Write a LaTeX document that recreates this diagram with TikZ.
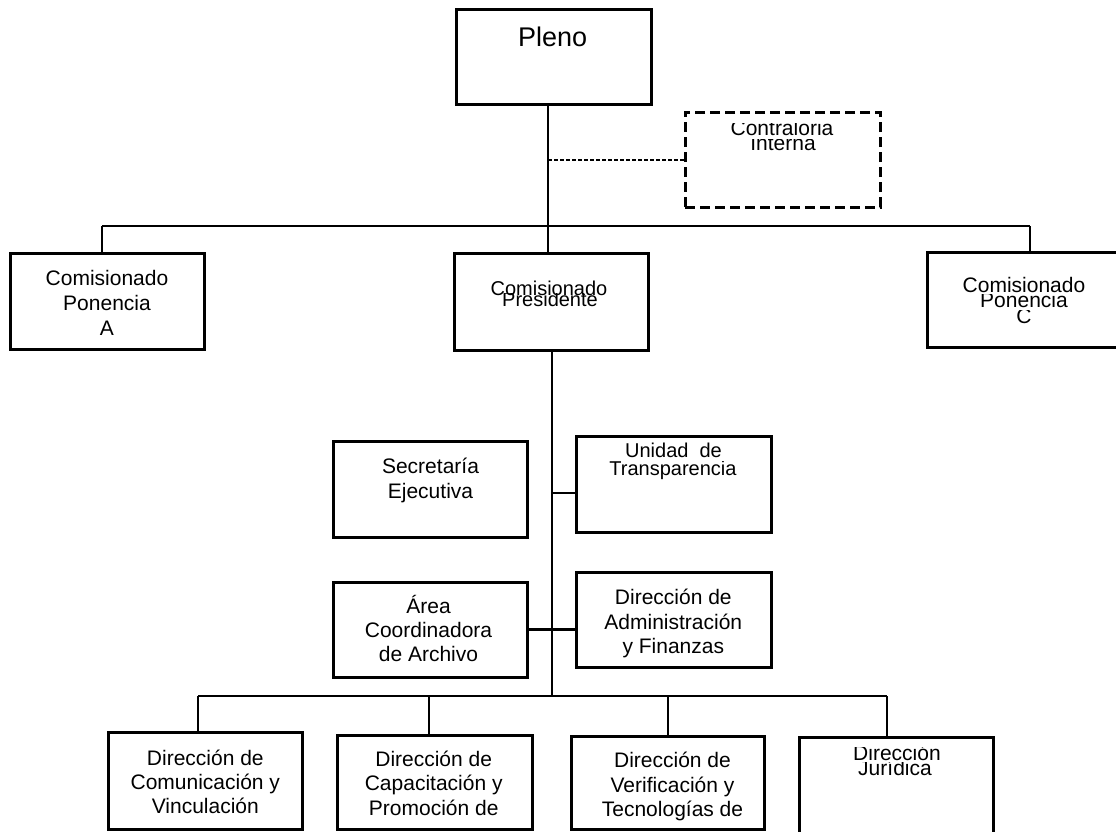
\documentclass[tikz,border=0pt]{standalone}
\usepackage{fontspec}
\setmainfont{Liberation Sans}
\begin{document}
\begin{tikzpicture}[x=1pt,y=-1pt,
  box/.style={draw, line width=3pt, rectangle, inner sep=0pt},
  dbox/.style={draw, line width=3pt, rectangle, inner sep=0pt, dash pattern=on 10pt off 5pt},
  conn/.style={line width=2.2pt},
  dconn/.style={line width=2pt, dash pattern=on 4pt off 2pt},
  txt/.style={anchor=base, inner sep=0pt, font=\fontsize{21}{21}\selectfont},
  txts/.style={txt, font=\fontsize{20}{20}\selectfont},
  txtl/.style={txt, font=\fontsize{27}{27}\selectfont}]
\useasboundingbox (0,0) rectangle (1116,831);
\clip (0,0) rectangle (1116,831);

% boxes
\node[box, minimum width=195pt, minimum height=95pt] (pleno) at (553.5,56.5) {};
\node[dbox, minimum width=195pt, minimum height=95pt] (contra) at (782.5,159.5) {};
\node[box, minimum width=194pt, minimum height=96pt] (comA) at (107,301) {};
\node[box, minimum width=194pt, minimum height=97pt] (pres) at (551,301.5) {};
\node[box, minimum width=194pt, minimum height=95pt] (comC) at (1024,299.5) {};
\node[box, minimum width=194pt, minimum height=96pt] (secre) at (430,489) {};
\node[box, minimum width=195pt, minimum height=96pt] (unidad) at (673.5,484) {};
\node[box, minimum width=194pt, minimum height=95pt] (area) at (430,629.5) {};
\node[box, minimum width=195pt, minimum height=95pt] (admin) at (673.5,619.5) {};
\node[box, minimum width=194pt, minimum height=97pt] (d1) at (205,780.5) {};
\node[box, minimum width=195pt, minimum height=94pt] (d2) at (434.5,782) {};
\node[box, minimum width=193pt, minimum height=93pt] (d3) at (667.5,782.5) {};
\node[box, minimum width=194pt, minimum height=96pt] (d4) at (896,785) {};

% connectors
\coordinate (tbL) at (102,226);
\coordinate (tbR) at (1030,226);
\coordinate (tbC) at (548,226);
\coordinate (sp) at (552,696);
\coordinate (ju) at (552,493);
\coordinate (bbL) at (198,696);
\coordinate (bb2) at (429,696);
\coordinate (bb3) at (668,696);
\coordinate (bbR) at (887,696);
\draw[conn] (tbL) -- (tbR);
\draw[conn] (tbL) -- (tbL |- comA.north);
\draw[conn] (tbR) -- (tbR |- comC.north);
\draw[conn] (pleno.south -| tbC) -- (pres.north -| tbC);
\draw[dconn] (contra.west -| tbC) -- (contra.west);
\draw[conn] (pres.south -| sp) -- (sp);
\draw[conn] (ju) -- (ju -| unidad.west);
\draw[conn] (area.east) -- (area.east -| admin.west);
\draw[conn] (bbL) -- (bbR);
\draw[conn] (bbL) -- (bbL |- d1.north);
\draw[conn] (bb2) -- (bb2 |- d2.north);
\draw[conn] (bb3) -- (bb3 |- d3.north);
\draw[conn] (bbR) -- (bbR |- d4.north);

% texts
\node[txtl] (tpleno) at (552.7,46) {Pleno};

\begin{scope}\clip (700,123) rectangle (865,141);
\node[txt] (tci1) at (782,135) {Contraloria};\end{scope}
\begin{scope}\clip (700,139) rectangle (865,157);
\node[txt] (tci2) at (783,150.7) {Interna};\end{scope}

\node[txt] (tA1) at (107,285.7) {Comisionado};
\node[txt] (tA2) at (107,310.7) {Ponencia};
\node[txt] (tA3) at (107,335) {A};

\node[txts] (tP1) at (549,295) {Comisionado};
\begin{scope}\clip (480,293) rectangle (620,312);
\node[txts] (tP2) at (550,306) {Presidente};\end{scope}

\node[txt] (tC1) at (1024,292.3) {Comisionado};
\begin{scope}\clip (950,294) rectangle (1100,313);
\node[txt] (tC2) at (1024,307.7) {Ponencia};\end{scope}
\begin{scope}\clip (950,310) rectangle (1100,329);
\node[txt] (tC3) at (1024,323.3) {C};\end{scope}

\node[txt] (tS1) at (430.5,473) {Secretaría};
\node[txt] (tS2) at (430.5,498) {Ejecutiva};

\node[txts] (tU1) at (673.5,457) {Unidad~ de};
\begin{scope}\clip (590,461.5) rectangle (760,481);
\node[txts] (tU2) at (673,475) {Transparencia};\end{scope}

\node[txt] (tR1) at (428.5,613.3) {Área};
\node[txt] (tR2) at (428.5,637.3) {Coordinadora};
\node[txt] (tR3) at (428.5,661.7) {de Archivo};

\node[txt] (tD1) at (673.3,604) {Dirección de};
\node[txt] (tD2) at (673.3,629) {Administración};
\node[txt] (tD3) at (673.3,653) {y Finanzas};

\node[txt] (t11) at (205.3,765) {Dirección de};
\node[txt] (t12) at (205.3,789.3) {Comunicación y};
\node[txt] (t13) at (205.3,813.3) {Vinculación};

\node[txt] (t21) at (433.7,766) {Dirección de};
\node[txt] (t22) at (433.7,790.7) {Capacitación y};
\node[txt] (t23) at (433.7,815) {Promoción de};

\node[txt] (t31) at (672.5,767.3) {Dirección de};
\node[txt] (t32) at (672.5,792.3) {Verificación y};
\node[txt] (t33) at (672.5,816.7) {Tecnologías de};

\begin{scope}\clip (820,747.3) rectangle (975,766);
\node[txt] (t41) at (897,760.7) {Dirección};\end{scope}
\begin{scope}\clip (820,762.7) rectangle (975,781);
\node[txt] (t42) at (895,775) {Jurídica};\end{scope}
\end{tikzpicture}
\end{document}
